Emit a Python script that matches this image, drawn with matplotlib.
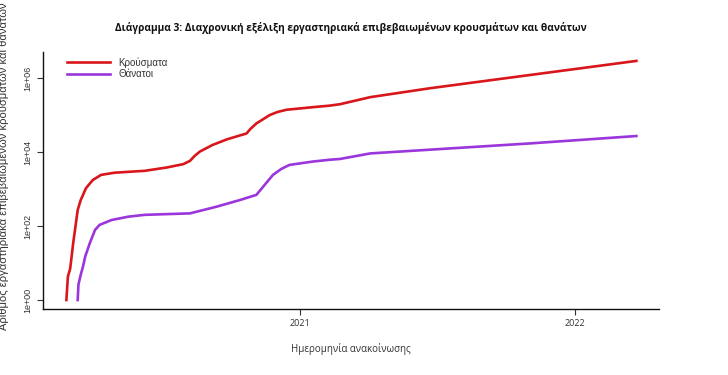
import matplotlib
matplotlib.use("Agg")
import matplotlib.pyplot as plt
import numpy as np
import pandas as pd

# ---- data ----
case_dates = ["2020-02-26", "2020-02-28", "2020-03-02", "2020-03-04", "2020-03-06",
              "2020-03-09", "2020-03-12", "2020-03-16", "2020-03-23", "2020-04-01",
              "2020-04-12", "2020-04-30", "2020-06-09", "2020-07-08", "2020-07-30",
              "2020-08-08", "2020-08-14", "2020-08-21", "2020-09-07", "2020-09-26",
              "2020-10-22", "2020-10-27", "2020-11-04", "2020-11-22", "2020-12-02",
              "2020-12-14", "2021-01-18", "2021-02-09", "2021-02-23", "2021-04-04",
              "2021-06-22", "2021-11-02", "2022-03-23"]
case_values = [1, 4.3, 7, 15, 34,
               95, 270, 500, 1050, 1740,
               2400, 2750, 3090, 3800, 4680,
               5750, 7760, 10230, 15500, 21900,
               31600, 41700, 58900, 100000, 120000,
               138000, 162000, 178000, 195000, 302000,
               525000, 1200000, 2880000]

death_dates = ["2020-03-12", "2020-03-13", "2020-03-16", "2020-03-19", "2020-03-22",
               "2020-03-28", "2020-04-04", "2020-04-10", "2020-04-26", "2020-05-18",
               "2020-06-09", "2020-08-08", "2020-09-12", "2020-10-13", "2020-11-04",
               "2020-11-15", "2020-11-26", "2020-12-07", "2020-12-18", "2021-01-18",
               "2021-02-09", "2021-02-23", "2021-04-04", "2021-11-02", "2022-03-23"]
death_values = [1, 2.6, 4.8, 7.9, 15,
                34, 78, 107, 145, 178,
                200, 219, 331, 501, 692,
                1290, 2400, 3470, 4470, 5500,
                6150, 6460, 9120, 17000, 26900]

series_labels = ["Κρούσματα", "Θάνατοι"]
x_ticks = ["2021-01-01", "2022-01-01"]
x_tick_labels = ["2021", "2022"]
y_ticks = [1, 1e2, 1e4, 1e6]
y_tick_labels = ["1e+00", "1e+02", "1e+04", "1e+06"]

title = "Διάγραμμα 3: Διαχρονική εξέλιξη εργαστηριακά επιβεβαιωμένων κρουσμάτων και θανάτων"
xlabel = "Ημερομηνία ανακοίνωσης"
ylabel = "Αριθμός εργαστηριακά επιβεβαιωμένων κρουσμάτων και θανάτων"

# ---- figure ----
fig = plt.figure(figsize=(7.28, 3.75), dpi=100)
ax = fig.add_axes([43/728, 1 - 309/375, (659 - 43)/728, (309 - 52)/375])

red = "#d8161b"
purple = "#9b35dc"
ax.plot(pd.to_datetime(case_dates), case_values, color=red, lw=1.9,
        solid_joinstyle="round", label=series_labels[0])
ax.plot(pd.to_datetime(death_dates), death_values, color=purple, lw=1.9,
        solid_joinstyle="round", label=series_labels[1])

ax.set_yscale("log")
ax.set_ylim(10**-0.243, 10**6.70)
ax.set_xlim(pd.Timestamp("2020-01-26"), pd.Timestamp("2022-04-22"))

ax.set_yticks(y_ticks)
ax.set_yticklabels(y_tick_labels, rotation=90, va="center", fontsize=6.5,
                   family="Liberation Sans", color="#333333")
ax.yaxis.set_minor_locator(matplotlib.ticker.NullLocator())
ax.set_xticks(pd.to_datetime(x_ticks))
ax.set_xticklabels(x_tick_labels, fontsize=6.5, family="Open Sans", color="#333333")
ax.tick_params(axis="both", length=4, width=0.8, color="#333333", pad=3)
ax.tick_params(axis="y", pad=4)

for s in ["top", "right"]:
    ax.spines[s].set_visible(False)
for s in ["left", "bottom"]:
    ax.spines[s].set_linewidth(1.0)
    ax.spines[s].set_color("#111111")

leg = ax.legend(loc="upper left", bbox_to_anchor=(0.032, 0.995), frameon=False,
                prop={"family": "Liberation Sans", "size": 7}, handlelength=4.5,
                handletextpad=0.8, labelspacing=0.15, borderaxespad=0)
for t in leg.get_texts():
    t.set_color("#333333")

fig.text(351/728, 1 - 28/375, title, ha="center", va="center", fontsize=7.3,
         fontweight="bold", family="Open Sans", color="#111111")
fig.text(351/728, 1 - 349/375, xlabel, ha="center", va="center", fontsize=7,
         family="Open Sans", color="#333333")
fig.text(4/728, 1 - 166/375, ylabel, ha="center", va="center", rotation=90,
         fontsize=8, family="Liberation Sans", color="#333333")

fig.savefig("out.png", dpi=100, facecolor="white")
